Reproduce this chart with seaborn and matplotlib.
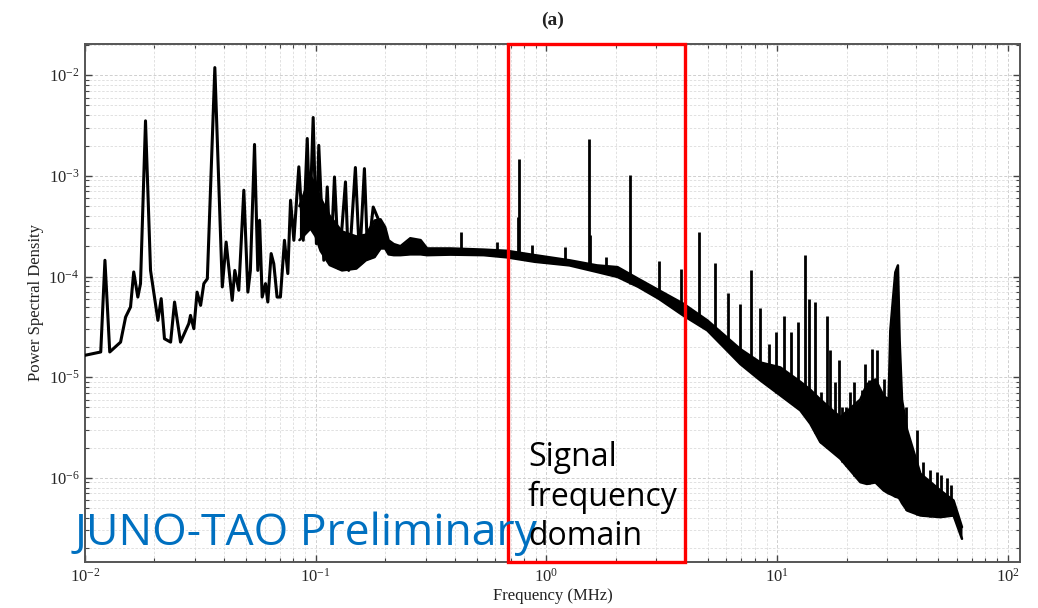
import numpy as np
import pandas as pd
import matplotlib
matplotlib.use("Agg")
import matplotlib.pyplot as plt
import matplotlib.ticker as mticker
from matplotlib.patches import Rectangle
import seaborn as sns

# ---------------- data ----------------
# low-frequency resonance region: explicit trace points (MHz, PSD)
lf_freq = [0.01, 0.0117, 0.0122, 0.0128, 0.01426, 0.0150, 0.01575, 0.01626, 0.01694, 0.0174,
           0.01829, 0.01923, 0.0207, 0.02139, 0.0221, 0.0235, 0.02444, 0.02594, 0.02818, 0.02866,
           0.02963, 0.0306, 0.0317, 0.03274, 0.0339, 0.03654, 0.03936, 0.0409, 0.04345, 0.0446,
           0.0464, 0.0488, 0.0508, 0.0521, 0.0543, 0.0561, 0.0571, 0.0586, 0.0606, 0.0620,
           0.0641, 0.0658, 0.0680, 0.0703, 0.0732, 0.0757, 0.0778, 0.0804, 0.0845, 0.0883,
           0.0919, 0.0943, 0.0975, 0.1007, 0.1031, 0.1084, 0.1122, 0.116, 0.1206, 0.1259,
           0.1346, 0.139, 0.1486, 0.155, 0.1626, 0.168, 0.1775, 0.1876]
lf_psd = [1.65e-5, 1.78e-5, 1.45e-4, 1.78e-5, 2.23e-5, 3.96e-5, 4.98e-5, 1.11e-4, 6.25e-5, 8.5e-5,
          3.52e-3, 1.15e-4, 3.67e-5, 6.03e-5, 2.41e-5, 2.23e-5, 5.58e-5, 2.23e-5, 3.41e-5, 4.11e-5,
          3.03e-5, 7.0e-5, 5.17e-5, 8.5e-5, 9.5e-5, 1.19e-2, 7.88e-5, 2.2e-4, 5.8e-5, 1.15e-4,
          7.3e-5, 7.2e-4, 7.0e-5, 1.15e-4, 2.05e-3, 1.15e-4, 3.62e-4, 6.25e-5, 8.5e-5, 5.58e-5,
          1.69e-4, 1.34e-4, 6.25e-5, 6.25e-5, 2.29e-4, 1.07e-4, 5.72e-4, 2.29e-4, 1.23e-3, 2.29e-4,
          2.35e-3, 3.62e-4, 3.8e-3, 2.12e-4, 2.01e-3, 1.45e-4, 7.76e-4, 1.34e-4, 9.75e-4, 1.2e-4,
          8.7e-4, 1.15e-4, 1.21e-3, 1.45e-4, 1.18e-3, 1.56e-4, 4.9e-4, 3.62e-4]

# thick noise band of the trace (lower / upper envelope)
band_freq = [0.085, 0.095, 0.1, 0.105, 0.115, 0.13, 0.15, 0.165, 0.18, 0.191, 0.2, 0.207, 0.218,
             0.233, 0.257, 0.285, 0.304, 0.384, 0.535, 0.675, 0.892, 1.258, 1.657, 2.034, 2.5,
             3.075, 3.92, 4.98, 6.93, 8.46, 10.33, 12.61, 13.93, 15.39, 18.8, 22.95, 24.5, 26.7,
             28.97, 30.44, 30.96, 31.8, 32.54, 33.4, 33.97, 34.8, 36.6, 41.8, 51.0, 58.2, 63.3]
band_lo = [2.3e-4, 3.0e-4, 2.5e-4, 1.8e-4, 1.3e-4, 1.15e-4, 1.2e-4, 1.45e-4, 1.56e-4, 1.9e-4, 1.9e-4,
           1.66e-4, 1.63e-4, 1.63e-4, 1.66e-4, 1.66e-4, 1.63e-4, 1.65e-4, 1.63e-4, 1.55e-4, 1.4e-4,
           1.29e-4, 1.11e-4, 9.9e-5, 7.9e-5, 6.0e-5, 4.1e-5, 2.92e-5, 1.35e-5, 9.3e-6, 6.6e-6,
           4.68e-6, 3.45e-6, 2.27e-6, 1.55e-6, 9.06e-7, 8.7e-7, 9.0e-7, 7.5e-7, 7.0e-7, 6.9e-7,
           6.7e-7, 6.5e-7, 6.4e-7, 6.2e-7, 5.6e-7, 4.74e-7, 4.23e-7, 4.07e-7, 4.23e-7, 2.48e-7]
band_hi = [5.0e-4, 1.0e-3, 8.0e-4, 6.0e-4, 4.0e-4, 2.8e-4, 2.5e-4, 2.6e-4, 3.6e-4, 3.7e-4, 3.1e-4,
           2.29e-4, 2.1e-4, 2.0e-4, 2.4e-4, 2.3e-4, 1.9e-4, 1.9e-4, 1.85e-4, 1.8e-4, 1.63e-4,
           1.45e-4, 1.29e-4, 1.24e-4, 9.5e-5, 7.3e-5, 5.37e-5, 3.67e-5, 1.9e-5, 1.4e-5, 1.25e-5,
           9.0e-6, 7.5e-6, 6.0e-6, 4.0e-6, 6.0e-6, 8.5e-6, 9.5e-6, 6.5e-6, 6.0e-6, 2.9e-5,
           6.0e-5, 1.1e-4, 1.29e-4, 2.32e-5, 5.9e-6, 3.0e-6, 1.1e-6, 7.5e-7, 5.96e-7, 3.24e-7]

# narrow spectral lines
spike_freq = [0.428, 0.613, 0.755, 0.764, 0.867, 1.206, 1.536, 1.55, 1.806, 2.31, 3.08, 3.83, 4.60,
              5.39, 6.15, 6.88, 7.69, 8.40, 9.19, 9.92, 10.67, 11.49, 12.28, 13.19, 13.8, 14.65,
              15.55, 16.46, 16.89, 17.76, 18.48, 19.12, 19.96, 20.77, 21.62, 22.65, 23.35, 24.12,
              24.93, 25.79, 27.11, 29.16, 36.32, 40.42, 42.91, 45.83, 49.35, 51.5, 54.5, 56.7]
spike_peak = [2.75e-4, 2.2e-4, 3.9e-4, 1.46e-3, 2.04e-4, 1.96e-4, 2.3e-3, 2.6e-4, 1.56e-4, 1.02e-3,
              1.43e-4, 1.2e-4, 2.77e-4, 1.36e-4, 6.8e-5, 5.37e-5, 1.15e-4, 4.9e-5, 2.15e-5, 2.8e-5,
              4.1e-5, 2.8e-5, 3.53e-5, 1.63e-4, 6.0e-5, 5.6e-5, 7.1e-6, 4.1e-5, 1.85e-5, 8.95e-6,
              1.47e-5, 5.05e-6, 5.05e-6, 7.1e-6, 8.95e-6, 4.9e-6, 7.4e-6, 1.36e-5, 9.3e-6, 1.92e-5,
              1.85e-5, 9.66e-6, 5.05e-6, 2.96e-6, 1.43e-6, 1.19e-6, 1.14e-6, 1.07e-6, 1.0e-6, 8.4e-7]
spike_base = [1.65e-4, 1.6e-4, 1.5e-4, 1.5e-4, 1.42e-4, 1.3e-4, 1.15e-4, 1.15e-4, 1.07e-4, 8.5e-5,
              6.0e-5, 4.3e-5, 3.3e-5, 2.6e-5, 1.8e-5, 1.4e-5, 1.15e-5, 9.5e-6, 8.0e-6, 7.0e-6,
              6.3e-6, 5.6e-6, 5.0e-6, 4.2e-6, 3.6e-6, 2.8e-6, 2.2e-6, 2.0e-6, 1.9e-6, 1.75e-6,
              1.6e-6, 1.45e-6, 1.3e-6, 1.2e-6, 1.05e-6, 9.5e-7, 9.0e-7, 8.8e-7, 8.7e-7, 8.8e-7,
              9.0e-7, 7.5e-7, 4.8e-7, 4.3e-7, 4.2e-7, 4.1e-7, 4.1e-7, 4.1e-7, 4.15e-7, 4.2e-7]

signal_band = [0.685, 3.97]   # MHz, red box
x_limits = [0.01, 113.0]
y_limits = [1.46e-7, 2.04e-2]

title_text = "(a)"
x_label = "Frequency (MHz)"
y_label = "Power Spectral Density"
watermark = "JUNO-TAO Preliminary"
box_label = "Signal\nfrequency\ndomain"

# ---------------- styling ----------------
sns.set_theme(style="ticks")
plt.rcParams["font.family"] = ["Liberation Serif", "DejaVu Serif"]
plt.rcParams["mathtext.fontset"] = "stix"

fig = plt.figure(figsize=(10.38, 6.08), dpi=100)
ax = fig.add_axes([0.0819, 0.0757, 0.9008, 0.8519])

lf_df = pd.DataFrame({"f": lf_freq, "p": lf_psd})
band_df = pd.DataFrame({"f": band_freq, "lo": band_lo, "hi": band_hi})

ax.set_xscale("log")
ax.set_yscale("log")

ax.fill_between(band_df["f"], band_df["lo"], band_df["hi"], color="black", lw=0, zorder=3)
sns.lineplot(data=band_df, x="f", y="lo", color="black", lw=1.8, estimator=None, sort=False, ax=ax, zorder=3)
sns.lineplot(data=band_df, x="f", y="hi", color="black", lw=1.8, estimator=None, sort=False, ax=ax, zorder=3)
sns.lineplot(data=lf_df, x="f", y="p", color="black", lw=2.2, estimator=None, sort=False, ax=ax, zorder=4)
ax.vlines(spike_freq, spike_base, spike_peak, color="black", lw=2.0, zorder=4)

ax.set_xlim(*x_limits)
ax.set_ylim(*y_limits)

# grid (major + minor), light dashed
ax.xaxis.set_major_locator(mticker.LogLocator(base=10, numticks=10))
ax.xaxis.set_minor_locator(mticker.LogLocator(base=10, subs=np.arange(2, 10), numticks=20))
ax.yaxis.set_major_locator(mticker.LogLocator(base=10, numticks=10))
ax.yaxis.set_minor_locator(mticker.LogLocator(base=10, subs=np.arange(2, 10), numticks=20))
ax.yaxis.set_minor_formatter(mticker.NullFormatter())
ax.xaxis.set_minor_formatter(mticker.NullFormatter())
ax.grid(True, which="major", color="#cfcfcf", ls=(0, (3, 2)), lw=0.7, zorder=0)
ax.grid(True, which="minor", color="#dcdcdc", ls=(0, (3, 2)), lw=0.6, zorder=0)

ax.tick_params(which="both", direction="in", top=True, right=True, color="#444444")
ax.tick_params(which="major", length=5, width=1.0, labelsize=12, pad=4)
ax.tick_params(which="minor", length=3, width=0.8)
for s in ax.spines.values():
    s.set_color("#555555")
    s.set_linewidth(1.4)

ax.set_xlabel(x_label, fontsize=12, color="#222222", labelpad=2)
ax.set_ylabel(y_label, fontsize=12, color="#222222", labelpad=3)
ax.set_title(title_text, fontsize=14, fontweight="bold", pad=14, color="#222222")

# red box marking the signal frequency domain
trans = matplotlib.transforms.blended_transform_factory(ax.transData, ax.transAxes)
rect = Rectangle((signal_band[0], 0.0), signal_band[1] - signal_band[0], 1.0, transform=trans,
                 fill=False, edgecolor="#ff0000", lw=2.4, zorder=6, clip_on=False)
ax.add_patch(rect)

fig.text(75 / 1038, 1 - 545 / 608, watermark, color="#0070C0", fontsize=32,
         family=["Open Sans", "DejaVu Sans"], ha="left", va="baseline", zorder=7)
fig.text(528 / 1038, 1 - 545 / 608, box_label, color="black", fontsize=23,
         family=["Open Sans", "DejaVu Sans"], ha="left", va="baseline", linespacing=1.25, zorder=7)

fig.savefig("out.png", dpi=100)
